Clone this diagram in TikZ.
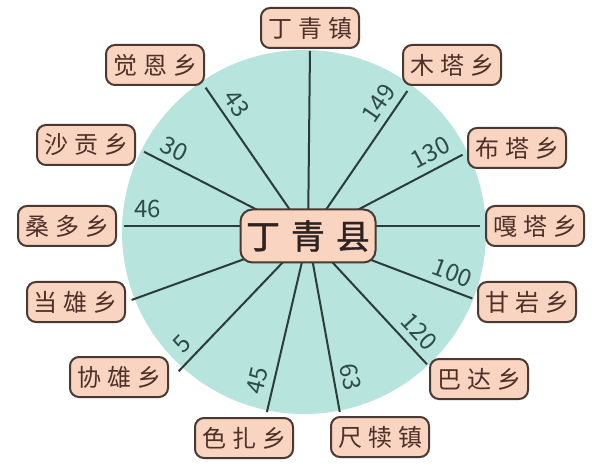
\documentclass[tikz,border=0pt]{standalone}
\usepackage{fontspec}
\setmainfont{Noto Sans CJK SC}
\newfontfamily\townfont[LetterSpace=25]{Noto Sans CJK SC}
\newfontfamily\countyfont[LetterSpace=32, FakeBold=1.2]{Noto Sans CJK SC}
\usetikzlibrary{backgrounds}
\definecolor{diskteal}{HTML}{B7E4DD}
\definecolor{boxpeach}{HTML}{F9D4C0}
\definecolor{boxline}{HTML}{4A3832}
\definecolor{inkbrown}{HTML}{4E3029}
\definecolor{inkdark}{HTML}{2E2320}
\definecolor{linkgray}{HTML}{2C3C39}
\definecolor{numslate}{HTML}{2F4B49}

\begin{document}
\begin{tikzpicture}[x=1pt, y=-1pt,
    town/.style={rectangle, draw=boxline, line width=2pt, rounded corners=9pt, fill=boxpeach, minimum width=98pt, minimum height=40pt, inner sep=0pt, text=inkbrown, font=\townfont\fontsize{24}{24}\selectfont},
    countybox/.style={town, minimum width=135pt, minimum height=53pt, rounded corners=12pt, text=inkdark, font=\countyfont\fontsize{34}{34}\selectfont},
    link/.style={draw=linkgray, line width=2pt},
    num/.style={sloped, above=5pt, pos=.82, inner sep=2pt, text=numslate, font=\fontsize{24}{24}\selectfont}
]
    \useasboundingbox (0,0) rectangle (600,465);

    \node[countybox] (dqxian) at (308,236) {丁青县};

    \node[town] (dqzhen) at (310,28) {丁青镇};
    \node[town] (muta) at (452,65) {木塔乡};
    \node[town] (buta) at (517,148) {布塔乡};
    \node[town] (gata) at (535,226) {嘎塔乡};
    \node[town] (ganyan) at (527,302) {甘岩乡};
    \node[town] (bada) at (479,379) {巴达乡};
    \node[town] (chidu) at (380,437) {尺犊镇};
    \node[town] (seza) at (244,438) {色扎乡};
    \node[town] (xiexiong) at (119,377) {协雄乡};
    \node[town] (dangxiong) at (76,302) {当雄乡};
    \node[town] (sangduo) at (67,226) {桑多乡};
    \node[town] (shagong) at (86,145) {沙贡乡};
    \node[town] (juen) at (155,65) {觉恩乡};

    % disk and roads behind the boxes
    \begin{scope}[on background layer]
        \fill[diskteal] (304,232) circle (182pt);

        \draw[link, shorten >=2pt] (dqxian.center) -- (dqzhen.south);
        \draw[link, shorten >=6pt] (dqxian.center) -- node[num] {149} (muta.207);
        \draw[link, shorten >=5pt] (dqxian.center) -- node[num] {130} (buta.185);
        \draw[link, shorten >=5pt] (dqxian.center |- gata.west) -- (gata.west);
        \draw[link, shorten >=5pt] (dqxian.center) -- node[num] {100} (ganyan.178);
        \draw[link, shorten >=3pt] (dqxian.center) -- node[num] {120} (bada.166);
        \draw[link, shorten >=4pt] (dqxian.center) -- node[num, pos=.8] {63} (chidu.152);
        \draw[link, shorten >=5pt] (dqxian.center) -- node[num] {45} (seza.44);
        \draw[link, shorten >=14pt] (dqxian.center) -- node[num] {5} (xiexiong.-5);
        \draw[link, shorten >=6pt] (dqxian.center) -- (dangxiong.east);
        \draw[link, shorten >=7pt] (dqxian.center |- sangduo.east) -- node[num, pos=.84] {46} (sangduo.east);
        \draw[link, shorten >=9pt] (dqxian.center) -- node[num] {30} (shagong.-3);
        \draw[link, shorten >=2pt] (dqxian.center) -- node[num] {43} (juen.-23);
    \end{scope}
\end{tikzpicture}
\end{document}
